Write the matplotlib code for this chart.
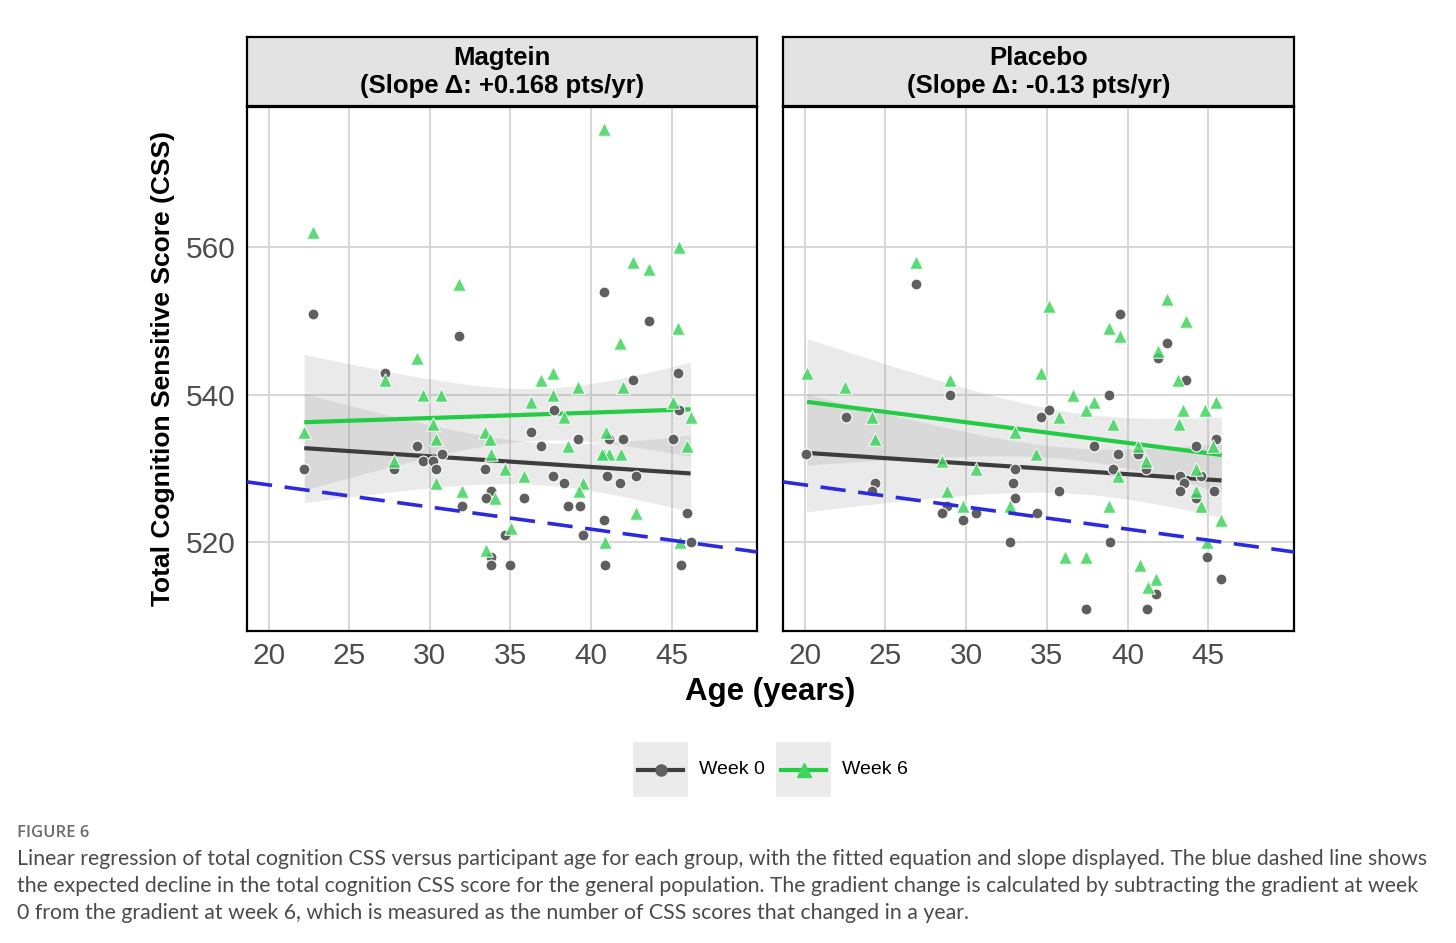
import numpy as np
import matplotlib
matplotlib.use("Agg")
import matplotlib.pyplot as plt
from matplotlib.patches import Rectangle
from matplotlib.lines import Line2D

plt.rcParams['font.family'] = ['Liberation Sans', 'DejaVu Sans']

# ---- data (age in years, total cognition CSS) ----
mag_w0_age = [40.78, 22.73, 43.59, 31.81, 27.24, 42.58, 45.39, 37.68, 45.43, 36.29,
              39.19, 41.09, 41.98, 45.08, 29.22, 36.89, 30.73, 27.80, 29.59, 30.19,
              30.40, 22.21, 33.40, 37.62, 38.30, 40.99, 41.82, 42.79, 33.79, 33.48,
              35.82, 31.99, 38.57, 39.29, 45.97, 40.78, 34.68, 39.48, 46.18, 33.77,
              33.77, 34.99, 40.89, 45.58]
mag_w0_css = [554, 551, 550, 548, 543, 542, 543, 538, 538, 535,
              534, 534, 534, 534, 533, 533, 532, 530, 531, 531,
              530, 530, 530, 529, 528, 529, 528, 529, 527, 526,
              526, 525, 525, 525, 524, 523, 521, 521, 520, 518,
              517, 517, 517, 517]

mag_w6_age = [40.78, 22.73, 45.43, 42.58, 43.59, 31.81, 45.37, 41.79, 29.20, 27.24,
              37.62, 36.87, 39.17, 41.96, 29.59, 30.71, 37.62, 36.27, 45.06, 38.30,
              46.18, 30.19, 22.21, 33.40, 30.38, 33.73, 40.95, 38.57, 45.97, 33.77,
              40.78, 41.09, 41.84, 40.68, 27.80, 34.68, 35.82, 39.50, 39.27, 30.38,
              31.99, 34.02, 42.79, 35.03, 40.89, 45.54, 33.50]
mag_w6_css = [576, 562, 560, 558, 557, 555, 549, 547, 545, 542,
              543, 542, 541, 541, 540, 540, 540, 539, 539, 537,
              537, 536, 535, 535, 534, 534, 535, 533, 533, 532,
              532, 532, 532, 532, 531, 530, 529, 528, 527, 528,
              527, 526, 524, 522, 520, 520, 519]

pla_w0_age = [26.90, 39.51, 42.43, 41.89, 43.61, 29.01, 38.85, 35.12, 34.64, 22.53,
              45.50, 37.92, 44.21, 20.10, 39.43, 40.61, 33.01, 39.12, 41.13, 43.24,
              44.52, 24.33, 24.20, 43.51, 32.92, 35.72, 43.24, 45.33, 33.01, 44.21,
              28.84, 28.53, 30.63, 34.40, 29.82, 32.70, 38.89, 44.90, 41.73, 45.81,
              37.40, 41.21]
pla_w0_css = [555, 551, 547, 545, 542, 540, 540, 538, 537, 537,
              534, 533, 533, 532, 532, 532, 530, 530, 530, 529,
              529, 528, 527, 528, 528, 527, 527, 527, 526, 526,
              525, 524, 524, 524, 523, 520, 520, 518, 513, 515,
              511, 511]

pla_w6_age = [26.90, 35.12, 42.43, 43.61, 38.85, 39.51, 41.89, 20.15, 29.01, 34.64,
              22.51, 43.09, 36.59, 37.92, 37.40, 45.48, 43.40, 44.81, 35.74, 39.12,
              43.20, 24.20, 24.33, 40.61, 45.31, 34.35, 41.13, 28.53, 30.63, 44.21,
              39.43, 28.84, 44.21, 32.70, 38.85, 44.54, 29.82, 45.81, 44.90, 36.09,
              37.40, 40.77, 41.75, 41.23, 33.01]
pla_w6_css = [558, 552, 553, 550, 549, 548, 546, 543, 542, 543,
              541, 542, 540, 539, 538, 539, 538, 538, 537, 536,
              536, 537, 534, 533, 533, 532, 531, 531, 530, 530,
              529, 527, 527, 525, 525, 525, 525, 523, 520, 518,
              518, 517, 515, 514, 535]

# expected decline for the general population
pop_intercept = 533.8
pop_slope = -0.30

panel_titles = [("Magtein", "(Slope \u0394: +0.168 pts/yr)"),
                ("Placebo", "(Slope \u0394: -0.13 pts/yr)")]
legend_labels = ["Week 0", "Week 6"]
x_ticks = [20, 25, 30, 35, 40, 45]
y_ticks = [520, 540, 560]

caption_head = "FIGURE 6"
caption_lines = [
    "Linear regression of total cognition CSS versus participant age for each group, with the fitted equation and slope displayed. The blue dashed line shows",
    "the expected decline in the total cognition CSS score for the general population. The gradient change is calculated by subtracting the gradient at week",
    "0 from the gradient at week 6, which is measured as the number of CSS scores that changed in a year.",
]

W, H = 1456, 943
fig = plt.figure(figsize=(W / 100, H / 100), dpi=100)

grey_pt = "#5f5f5f"
green_pt = "#3fd45e"
grey_line = "#3d3d3d"
green_line = "#22cc44"


def fit_band(x, y, ax, line_col):
    x = np.asarray(x, float)
    y = np.asarray(y, float)
    n = len(x)
    b, a = np.polyfit(x, y, 1)
    xs = np.linspace(x.min(), x.max(), 80)
    yhat = a + b * xs
    resid = y - (a + b * x)
    s = np.sqrt(np.sum(resid ** 2) / (n - 2))
    se = s * np.sqrt(1.0 / n + (xs - x.mean()) ** 2 / np.sum((x - x.mean()) ** 2))
    t = 2.02
    ax.fill_between(xs, yhat - t * se, yhat + t * se, color="#999999", alpha=0.2,
                    linewidth=0, zorder=2)
    ax.plot(xs, yhat, color=line_col, lw=3, zorder=4, solid_capstyle="butt")


def px_rect(left, top, right, bottom):
    return [left / W, 1 - bottom / H, (right - left) / W, (bottom - top) / H]


panels = [
    (px_rect(247, 107, 757, 631), px_rect(247, 37, 757, 106),
     (mag_w0_age, mag_w0_css), (mag_w6_age, mag_w6_css)),
    (px_rect(783, 107, 1294, 631), px_rect(783, 37, 1294, 106),
     (pla_w0_age, pla_w0_css), (pla_w6_age, pla_w6_css)),
]

for i, (rect, srect, w0, w6) in enumerate(panels):
    ax = fig.add_axes(rect)
    ax.set_xlim(18.66, 50.3)
    ax.set_ylim(508, 579)
    ax.set_xticks(x_ticks)
    ax.set_yticks(y_ticks)
    ax.grid(True, color="#d6d6d6", lw=1.4, zorder=0)
    ax.set_axisbelow(True)
    for sp in ax.spines.values():
        sp.set_linewidth(1.6)
        sp.set_color("black")
    ax.tick_params(length=0, labelsize=21.5, labelcolor="#4d4d4d", pad=8)
    if i == 1:
        ax.tick_params(labelleft=False)

    fit_band(w0[0], w0[1], ax, grey_line)
    fit_band(w6[0], w6[1], ax, green_line)

    ax.scatter(w0[0], w0[1], s=62, marker="o", color=grey_pt, edgecolor="white",
               linewidth=0.8, zorder=5)
    ax.scatter(w6[0], w6[1], s=95, marker="^", color=green_pt, alpha=0.85,
               edgecolor="white", linewidth=0.8, zorder=6)

    xl = np.array(ax.get_xlim())
    ax.plot(xl, pop_intercept + pop_slope * xl, color="#2b2bdd", lw=2.6,
            dashes=(7, 3.5), zorder=7)
    ax.set_xlim(18.66, 50.3)

    sax = fig.add_axes(srect)
    sax.set_facecolor("#e3e3e3")
    sax.set_xticks([])
    sax.set_yticks([])
    for sp in sax.spines.values():
        sp.set_linewidth(1.6)
    top_line, bottom_line = panel_titles[i]
    sax.text(0.5, 1 - (58 - 37) / 69, top_line, ha="center", va="center", fontsize=18.5,
             fontweight="bold", transform=sax.transAxes)
    sax.text(0.5, 1 - (86 - 37) / 69, bottom_line, ha="center", va="center", fontsize=18.5,
             fontweight="bold", transform=sax.transAxes)

fig.text(163 / W, 1 - 369 / H, "Total Cognition Sensitive Score (CSS)", rotation=90,
         ha="center", va="center", fontsize=19, fontweight="bold")
fig.text(770 / W, 1 - 692 / H, "Age (years)", ha="center", va="center",
         fontsize=22.5, fontweight="bold")

# legend keys
keys = [(633, grey_line, grey_pt, "o", 8), (776, green_line, green_pt, "^", 9.5)]
for (kx, lc, pc, mk, ms), lab in zip(keys, legend_labels):
    fig.patches.append(Rectangle((kx / W, 1 - 797 / H), 55 / W, 55 / H,
                                 transform=fig.transFigure, facecolor="#ebebeb",
                                 edgecolor="none"))
    fig.lines.append(Line2D([(kx + 5) / W, (kx + 50) / W], [1 - 769.5 / H] * 2,
                            transform=fig.transFigure, color=lc, lw=3))
    fig.lines.append(Line2D([(kx + 27.5) / W], [1 - 769.5 / H], transform=fig.transFigure,
                            marker=mk, markersize=ms, color=pc, markeredgecolor=pc,
                            linestyle="none"))
    fig.text((kx + 66) / W, 1 - 770 / H, lab, ha="left", va="center", fontsize=14)

# caption
cap_font = ["Lato", "DejaVu Sans"]
fig.text(17 / W, 1 - 833 / H, caption_head, ha="left", va="center", fontsize=12,
         color="#6b6b6b", family=["Open Sans", "DejaVu Sans"], fontweight="semibold")
t0 = fig.text(17 / W, 1 - 859 / H, caption_lines[0], ha="left", va="center",
              fontsize=14, color="#4a4a4a", family=cap_font)
fig.canvas.draw()
wpx = t0.get_window_extent().width
cap_size = 14 * 1415.0 / wpx
t0.set_fontsize(cap_size)
for j, line in enumerate(caption_lines[1:], start=1):
    fig.text(17 / W, 1 - (859 + 27 * j) / H, line, ha="left", va="center",
             fontsize=cap_size, color="#4a4a4a", family=cap_font)

fig.savefig("out.png", dpi=100)
